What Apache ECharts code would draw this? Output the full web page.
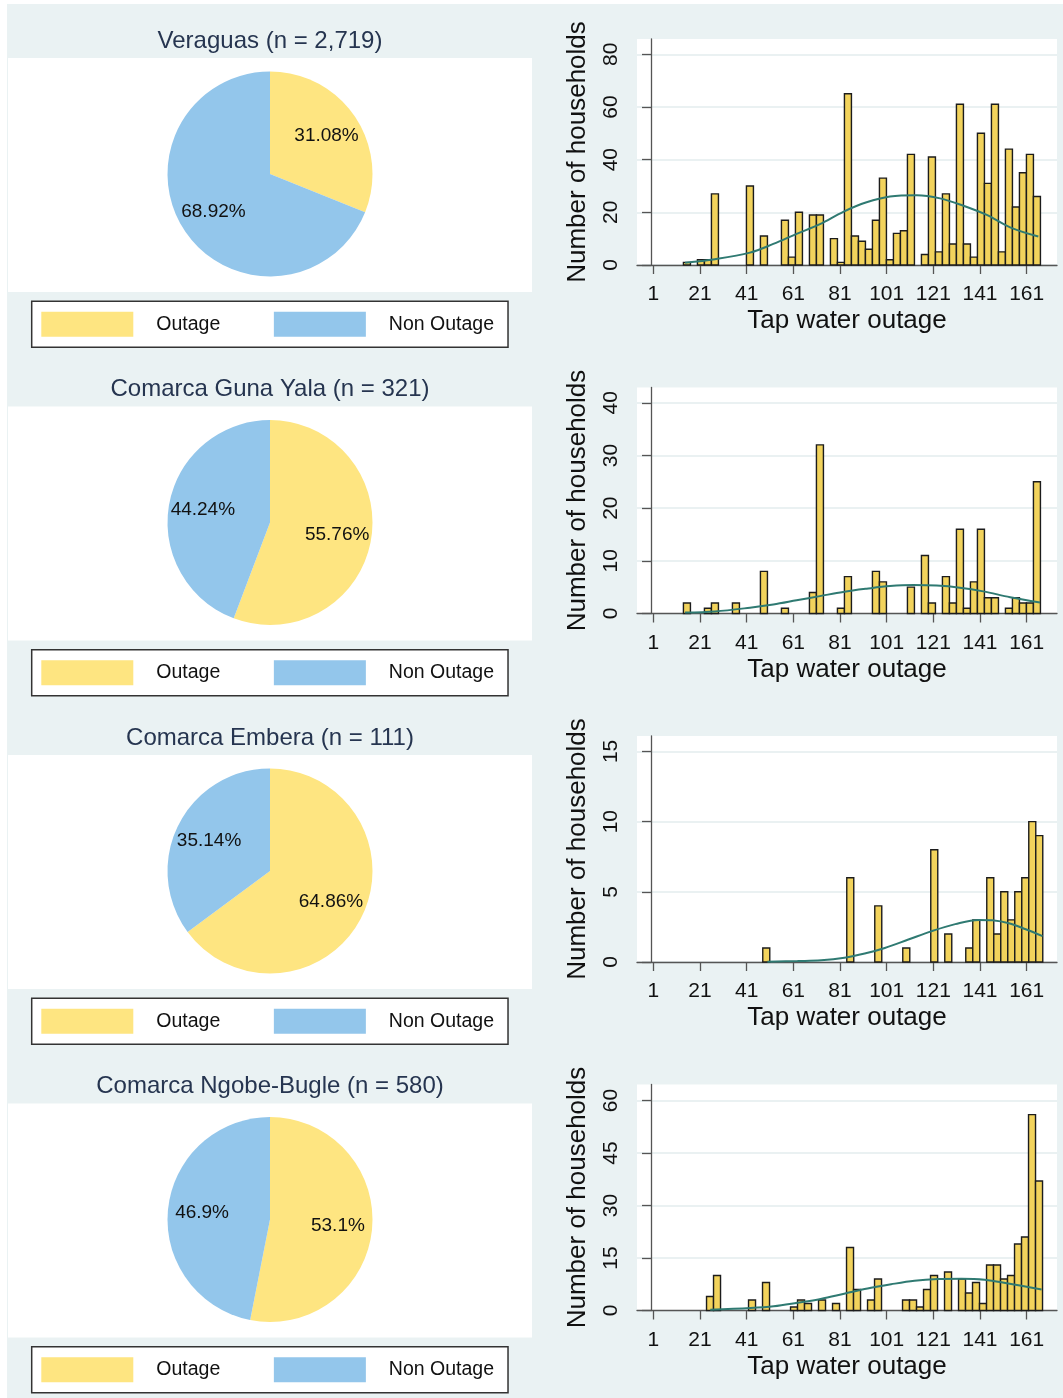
<!DOCTYPE html>
<html>
<head>
<meta charset="utf-8">
<script src="https://cdn.jsdelivr.net/npm/echarts@6/dist/echarts.min.js"></script>
<style>
  html, body { margin: 0; padding: 0; background: #fff; }
  #chart { width: 1063px; height: 1398px; }
</style>
</head>
<body>
<div id="chart"></div>
<script>
// ---- data ----
const regionNames = ["Veraguas", "Comarca Guna Yala", "Comarca Embera", "Comarca Ngobe-Bugle"];
const regionN = ["2,719", "321", "111", "580"];
const outagePct = [31.08, 55.76, 64.86, 53.1];
const nonOutagePct = [68.92, 44.24, 35.14, 46.9];

// histogram bins: bin centre (days) and number of households
const veraguasBins = [15.4, 21.4, 24.4, 27.4, 42.4, 48.4, 57.4, 60.4, 63.4, 69.4, 72.4, 78.4, 81.4, 84.4, 87.4, 90.4, 93.4, 96.4, 99.4, 102.4, 105.4, 108.4, 111.4, 117.4, 120.4, 123.4, 126.4, 129.4, 132.4, 135.4, 138.4, 141.4, 144.4, 147.4, 150.4, 153.4, 156.4, 159.4, 162.4, 165.4];
const veraguasCounts = [1, 2, 2, 27, 30, 11, 17, 3, 20, 19, 19, 10, 1, 65, 11, 9, 6, 17, 33, 2, 12, 13, 42, 4, 41, 5, 27, 8, 61, 8, 3, 50, 31, 61, 5, 44, 22, 35, 42, 26];

const gunaBins = [15.4, 24.4, 27.4, 36.4, 48.4, 57.4, 69.4, 72.4, 81.4, 84.4, 96.4, 99.4, 111.4, 117.4, 120.4, 126.4, 129.4, 132.4, 135.4, 138.4, 141.4, 144.4, 147.4, 153.4, 156.4, 159.4, 162.4, 165.4];
const gunaCounts = [2, 1, 2, 2, 8, 1, 4, 32, 1, 7, 8, 6, 5, 11, 2, 7, 2, 16, 1, 6, 16, 3, 3, 1, 3, 2, 2, 25];

const emberaBins = [49.4, 85.4, 97.4, 109.4, 121.4, 127.4, 136.4, 139.4, 145.4, 148.4, 151.4, 154.4, 157.4, 160.4, 163.4, 166.4];
const emberaCounts = [1, 6, 4, 1, 8, 2, 1, 3, 6, 2, 5, 3, 5, 6, 10, 9];

const ngobeBins = [25.3, 28.3, 43.3, 49.3, 61.3, 64.3, 67.3, 73.3, 79.3, 85.3, 88.3, 94.3, 97.3, 109.3, 112.3, 115.3, 118.3, 121.3, 127.3, 133.3, 136.3, 139.3, 142.3, 145.3, 148.3, 151.3, 154.3, 157.3, 160.3, 163.3, 166.3];
const ngobeCounts = [4, 10, 3, 8, 1, 3, 2, 3, 2, 18, 6, 3, 9, 3, 3, 1, 6, 10, 11, 9, 5, 8, 2, 13, 13, 9, 10, 19, 21, 56, 37];

// fitted normal curves
const veraguasCurve = [[14.6, 0.9], [27.4, 2.2], [42.4, 4.7], [52.4, 8.0], [62.4, 11.8], [72.4, 15.5], [82.4, 20.2], [92.4, 23.8], [102.4, 26], [113.9, 26.5], [123.9, 25.3], [133.9, 22.5], [143.9, 19], [153.9, 14.3], [166, 10.8]];
const gunaCurve = [[14.6, 0.2], [27.4, 0.4], [42.4, 1.1], [52.4, 1.7], [62.4, 2.5], [72.4, 3.3], [82.4, 4.1], [92.4, 4.7], [102.4, 5.2], [112.4, 5.4], [122.4, 5.3], [132.4, 4.9], [142.4, 4.2], [153.9, 3.1], [166.7, 2.1]];
const emberaCurve = [[49.9, 0.02], [62.8, 0.07], [72.9, 0.12], [82.9, 0.3], [91.6, 0.6], [100.2, 1.0], [110.3, 1.6], [120.3, 2.2], [130.4, 2.7], [140.4, 3.0], [146.2, 2.97], [153.4, 2.76], [160.6, 2.33], [167.8, 1.84]];
const ngobeCurve = [[25.4, 0.2], [42.6, 0.7], [52.6, 1.2], [62.7, 2.2], [72.7, 3.3], [82.8, 4.8], [92.8, 6.3], [102.9, 7.5], [112.9, 8.5], [123, 9.0], [133, 9.1], [143, 8.8], [153.1, 7.7], [167.4, 6.0]];

const xTicks = [1, 21, 41, 61, 81, 101, 121, 141, 161];
const yTicks = [[0, 20, 40, 60, 80], [0, 10, 20, 30, 40], [0, 5, 10, 15], [0, 15, 30, 45, 60]];
const yMax = [85.8, 42.9, 16.1, 64.6];

// ---- styling / layout ----
const FONT = "'Liberation Sans', Arial, sans-serif";
const BG = "#eaf2f3";
const OUTAGE = "#fee581";
const NON_OUTAGE = "#93c6eb";
const BAR_FILL = "#f2d35c";
const CURVE = "#2f7a72";
const PITCH = 348.5;
const BIN = 3;

const bins = [veraguasBins, gunaBins, emberaBins, ngobeBins];
const counts = [veraguasCounts, gunaCounts, emberaCounts, ngobeCounts];
const curves = [veraguasCurve, gunaCurve, emberaCurve, ngobeCurve];

const grid = [], xAxis = [], yAxis = [], series = [], legend = [], graphic = [];

graphic.push({ type: "rect", z: -100, shape: { x: 7, y: 4, width: 1056, height: 1394 }, style: { fill: BG } });

regionNames.forEach((name, i) => {
  const off = PITCH * i;

  // left: pie panel
  graphic.push({ type: "rect", z: -50, shape: { x: 8, y: 58 + off, width: 524, height: 234 }, style: { fill: "#fff" } });
  graphic.push({
    type: "text", z: 10,
    style: {
      x: 270, y: 41 + off, text: `${name} (n = ${regionN[i]})`,
      font: `24px ${FONT}`, fill: "#263550", textAlign: "center", textVerticalAlign: "middle",
    },
  });

  const pieData = [
    { name: "Outage", value: outagePct[i], itemStyle: { color: OUTAGE } },
    { name: "Non Outage", value: nonOutagePct[i], itemStyle: { color: NON_OUTAGE } },
  ];
  series.push({
    type: "pie", center: [270, 174 + off], radius: [0, 102.5],
    startAngle: 90, clockwise: true, silent: true,
    label: { show: false }, labelLine: { show: false },
    data: pieData,
  });
  // transparent ring only to place the percentage labels further out
  series.push({
    type: "pie", center: [270, 174 + off], radius: [28, 102.5],
    startAngle: 90, clockwise: true, silent: true, avoidLabelOverlap: false,
    itemStyle: { color: "rgba(0,0,0,0)" },
    emphasis: { disabled: true },
    label: {
      show: true, position: "inside", formatter: "{c}%", fontSize: 19, color: "#111",
      fontFamily: FONT, padding: [6, 0, 0, 0],
    },
    labelLine: { show: false },
    data: pieData.map((d) => ({ name: d.name, value: d.value })),
  });

  legend.push({
    left: 31.7, top: 301.3 + off, orient: "horizontal", selectedMode: false,
    icon: "rect", itemWidth: 92, itemHeight: 25, itemGap: 53.6,
    padding: [10.5, 14, 10.5, 9.6],
    backgroundColor: "#fff", borderColor: "#333", borderWidth: 1.5, borderRadius: 0,
    textStyle: { fontSize: 19.5, color: "#111", fontFamily: FONT, padding: [0, 0, 0, 18] },
    data: [
      { name: "Outage", itemStyle: { color: OUTAGE } },
      { name: "Non Outage", itemStyle: { color: NON_OUTAGE } },
    ],
  });

  // right: histogram panel
  grid.push({ left: 637, top: 39 + off, width: 420, height: 226, show: true, backgroundColor: "#fff", borderWidth: 0 });
  xAxis.push({
    gridIndex: i, type: "value", min: -6, max: 174,
    name: "Tap water outage", nameLocation: "middle", nameGap: 43,
    nameTextStyle: { fontSize: 26, color: "#111", fontFamily: FONT },
    axisLine: { show: true, lineStyle: { color: "#555", width: 1.3 } },
    axisTick: { show: true, length: 9, customValues: xTicks, lineStyle: { color: "#555", width: 1.3 } },
    axisLabel: { customValues: xTicks, fontSize: 21, color: "#111", margin: 19, fontFamily: FONT },
    splitLine: { show: false },
  });
  yAxis.push({
    gridIndex: i, type: "value", min: 0, max: yMax[i], interval: yTicks[i][1],
    name: "Number of households", nameLocation: "middle", nameGap: 46,
    nameTextStyle: { fontSize: 26, color: "#111", fontFamily: FONT },
    axisLine: { show: true, lineStyle: { color: "#555", width: 1.3 } },
    axisTick: { show: true, length: 9, customValues: yTicks[i], lineStyle: { color: "#555", width: 1.3 } },
    axisLabel: { customValues: yTicks[i], rotate: 90, fontSize: 21, color: "#111", margin: 15, fontFamily: FONT },
    splitLine: { show: true, lineStyle: { color: "#e3ecee", width: 1.5 } },
  });

  series.push({
    type: "custom", xAxisIndex: i, yAxisIndex: i, silent: true,
    data: bins[i].map((b, k) => [b, counts[i][k]]),
    renderItem: (params, api) => {
      const x = api.value(0), y = api.value(1);
      const p0 = api.coord([x - BIN / 2, y]);
      const p1 = api.coord([x + BIN / 2, 0]);
      return {
        type: "rect",
        shape: { x: p0[0], y: p0[1], width: p1[0] - p0[0], height: p1[1] - p0[1] },
        style: { fill: BAR_FILL, stroke: "#1c1c1c", lineWidth: 1.4 },
      };
    },
  });
  series.push({
    type: "line", xAxisIndex: i, yAxisIndex: i, silent: true,
    data: curves[i], smooth: 0.35, symbol: "none", z: 5,
    lineStyle: { color: CURVE, width: 2 },
  });
});

const chart = echarts.init(document.getElementById("chart"));
chart.setOption({
  animation: false,
  backgroundColor: "#fff",
  textStyle: { fontFamily: FONT },
  graphic: { elements: graphic },
  legend, grid, xAxis, yAxis, series,
});
</script>
</body>
</html>
